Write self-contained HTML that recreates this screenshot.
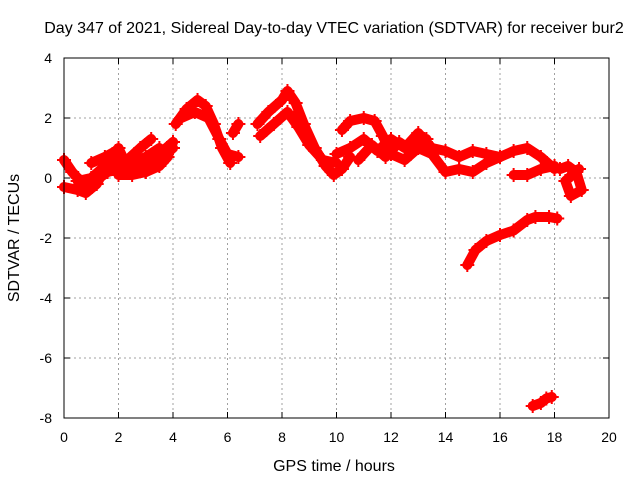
<!DOCTYPE html>
<html><head><meta charset="utf-8"><style>
body{margin:0;background:#fff}
svg{display:block;font-family:"Liberation Sans",sans-serif}
</style></head><body>
<svg id="chart" width="640" height="480">
<text x="334" y="33" font-size="16" text-anchor="middle">Day 347 of 2021, Sidereal Day-to-day VTEC variation (SDTVAR) for receiver bur2</text>
<text x="334" y="471" font-size="16" text-anchor="middle">GPS time / hours</text>
<text transform="translate(19,238) rotate(-90)" font-size="16" text-anchor="middle">SDTVAR / TECUs</text>
<g id="grid"></g><g id="ticks"></g><g id="marks"></g>
<rect x="64" y="58" width="545" height="360" fill="none" stroke="#000" stroke-width="1"/>
</svg>
<script>
const xTicks=[0,2,4,6,8,10,12,14,16,18,20];
const yTicks=[4,2,0,-2,-4,-6,-8];
const t1x=[0,0.3,0.6,1,1.3,1.6,2,2.5,3,3.5,4];
const t1y=[0.6,0.2,-0.1,-0.3,0,0.2,0.3,0.3,0.5,0.8,1.2];
const t2x=[0,0.5,0.8,1.2,1.5,1.8,2,2.2,2.5,3,3.5,3.8,4];
const t2y=[-0.3,-0.4,-0.5,-0.2,0.3,0.8,1.0,0.6,0.3,0.2,0.4,0.7,1.2];
const t3x=[1,1.5,1.9,2.2,2.8,3.2];
const t3y=[0.5,0.7,0.9,0.5,1.0,1.3];
const t4x=[2,2.5,3,3.5,4];
const t4y=[0.1,0.1,0.2,0.6,1.0];
const t5x=[4.1,4.5,4.9,5.2,5.5,5.8,6.1];
const t5y=[1.8,2.3,2.6,2.4,1.8,1.0,0.5];
const t6x=[4.3,4.8,5.3,5.7,6.0,6.4];
const t6y=[2.0,2.2,2.0,1.3,0.8,0.7];
const t7x=[6.2,6.4];
const t7y=[1.5,1.8];
const t8x=[7.1,7.5,8,8.2,8.5,8.8,9.2,9.6,9.9,10.2,10.5];
const t8y=[1.8,2.2,2.6,2.9,2.5,1.8,1.0,0.4,0.1,0.3,0.7];
const t9x=[7.2,7.7,8.2,8.6,9,9.5,10];
const t9y=[1.4,1.8,2.2,1.7,1.1,0.6,0.5];
const t10x=[10.2,10.5,11,11.4,11.7,11.9];
const t10y=[1.6,1.9,2.0,1.9,1.4,1.0];
const t11x=[10,10.5,11,11.5,12,12.5,13,13.5,14,14.5,15,15.5,16,16.5,17,17.5,18];
const t11y=[0.8,1.0,1.3,0.9,1.3,1.0,1.5,1.0,0.9,0.7,0.9,0.8,0.7,0.9,1.0,0.7,0.3];
const t12x=[12,12.5,13,13.5,14,14.5,15,15.5,16];
const t12y=[0.8,0.6,1.0,0.8,0.2,0.3,0.2,0.5,0.7];
const t13x=[16.5,17,17.5,18];
const t13y=[0.1,0.1,0.3,0.4];
const t14x=[18.2,18.5,18.8,19,18.6,18.4,18.9];
const t14y=[0.3,0.4,0.2,-0.4,-0.6,-0.1,0.3];
const t15x=[14.8,15.1,15.5,16,16.5,17,17.3,17.8,18.1];
const t15y=[-2.9,-2.4,-2.1,-1.9,-1.75,-1.4,-1.3,-1.3,-1.35];
const t16x=[17.2,17.5,17.7,17.9];
const t16y=[-7.6,-7.5,-7.35,-7.3];
const t17x=[10.8,11.3,11.8,12.3,12.8,13.3];
const t17y=[0.6,1.1,0.7,1.2,0.9,1.3];
const t18x=[0.5,1,1.5,2,2.5,3,3.5];
const t18y=[-0.1,0,0.4,0.6,0.5,0.7,1.0];
const tracksX=[t1x,t2x,t3x,t4x,t5x,t6x,t7x,t8x,t9x,t10x,t11x,t12x,t13x,t14x,t15x,t16x,t17x,t18x];
const tracksY=[t1y,t2y,t3y,t4y,t5y,t6y,t7y,t8y,t9y,t10y,t11y,t12y,t13y,t14y,t15y,t16y,t17y,t18y];
const X=h=>64+h*545/20;
const Y=v=>58+(4-v)*30;
const NS="http://www.w3.org/2000/svg";
function mk(tag,attrs,parent){const e=document.createElementNS(NS,tag);for(const k in attrs)e.setAttribute(k,attrs[k]);parent.appendChild(e);return e;}
const grid=document.getElementById('grid'),ticks=document.getElementById('ticks'),marks=document.getElementById('marks');
xTicks.forEach(t=>{
  if(t>0&&t<20){const g=mk('line',{x1:X(t),x2:X(t),y1:58,y2:418,stroke:'#a0a0a0','stroke-dasharray':'2,3'},grid);
  
  }
  mk('line',{x1:X(t),x2:X(t),y1:418,y2:412,stroke:'#000'},ticks);
  mk('line',{x1:X(t),x2:X(t),y1:58,y2:64,stroke:'#000'},ticks);
  const l=mk('text',{x:X(t),y:442,'font-size':14,'text-anchor':'middle'},ticks);l.textContent=t;
  
  
});
yTicks.forEach(t=>{
  if(t<4&&t>-8){const g=mk('line',{x1:64,x2:609,y1:Y(t),y2:Y(t),stroke:'#a0a0a0','stroke-dasharray':'2,3'},grid);
  
  }
  mk('line',{x1:64,x2:70,y1:Y(t),y2:Y(t),stroke:'#000'},ticks);
  mk('line',{x1:603,x2:609,y1:Y(t),y2:Y(t),stroke:'#000'},ticks);
  const l=mk('text',{x:52,y:Y(t)+5,'font-size':14,'text-anchor':'end'},ticks);l.textContent=t;
  
  
});
tracksX.forEach((xs,i)=>{
  const ys=tracksY[i];
  const p=mk('polyline',{points:xs.map((x,j)=>X(x)+','+Y(ys[j])).join(' '),fill:'none',stroke:'#ff0000','stroke-width':10,'stroke-linejoin':'round','stroke-linecap':'round'},marks);
  
  
  xs.forEach((x,j)=>{
    const c=mk('path',{d:`M${X(x)-7},${Y(ys[j])}h14M${X(x)},${Y(ys[j])-7}v14`,stroke:'#ff0000','stroke-width':2},marks);
    
    
  });
});
</script>
</body></html>
